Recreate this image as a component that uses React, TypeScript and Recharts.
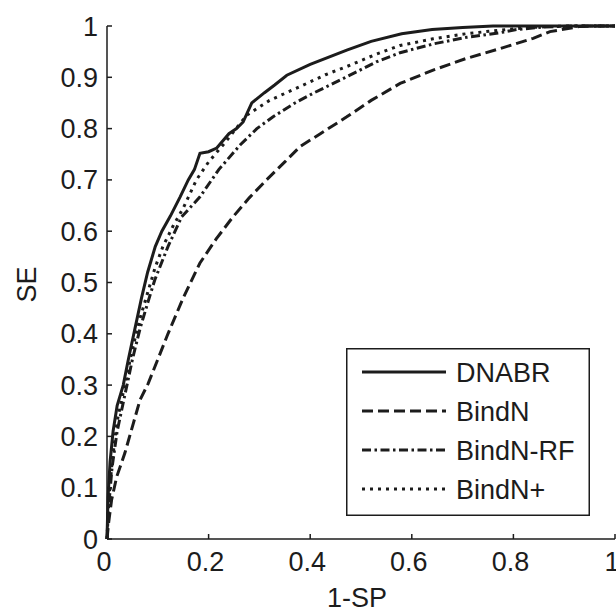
import { LineChart, Line, XAxis, YAxis, Legend, Label } from "recharts";

// ROC curves, values (x = 1-SP, y = SE)
const dnabrFpr = [0, 0.002, 0.006, 0.012, 0.02, 0.032, 0.042, 0.055, 0.068, 0.08, 0.095, 0.108, 0.125, 0.144, 0.16, 0.172, 0.183, 0.2, 0.216, 0.24, 0.255, 0.268, 0.285, 0.31, 0.33, 0.354, 0.4, 0.472, 0.52, 0.58, 0.64, 0.7, 0.76, 0.85, 1];
const dnabrTpr = [0, 0.08, 0.15, 0.21, 0.26, 0.3, 0.35, 0.41, 0.47, 0.52, 0.57, 0.6, 0.63, 0.667, 0.7, 0.72, 0.752, 0.755, 0.762, 0.79, 0.8, 0.813, 0.85, 0.87, 0.885, 0.904, 0.925, 0.953, 0.97, 0.985, 0.993, 0.997, 1, 1, 1];

const bindnFpr = [0, 0.003, 0.009, 0.019, 0.035, 0.052, 0.065, 0.081, 0.1, 0.12, 0.15, 0.183, 0.215, 0.248, 0.28, 0.314, 0.35, 0.38, 0.42, 0.472, 0.52, 0.577, 0.642, 0.708, 0.774, 0.839, 0.872, 0.93, 0.96, 1];
const bindnTpr = [0, 0.03, 0.076, 0.121, 0.167, 0.226, 0.271, 0.303, 0.35, 0.4, 0.47, 0.538, 0.585, 0.628, 0.665, 0.7, 0.735, 0.765, 0.79, 0.823, 0.855, 0.888, 0.914, 0.937, 0.956, 0.976, 0.989, 0.999, 1, 1];

const rfFpr = [0, 0.003, 0.01, 0.02, 0.035, 0.05, 0.065, 0.08, 0.094, 0.12, 0.147, 0.183, 0.22, 0.262, 0.295, 0.327, 0.37, 0.406, 0.472, 0.53, 0.577, 0.642, 0.708, 0.774, 0.806, 0.86, 0.92, 1];
const rfTpr = [0, 0.06, 0.14, 0.21, 0.28, 0.35, 0.41, 0.46, 0.505, 0.57, 0.628, 0.667, 0.72, 0.768, 0.8, 0.823, 0.85, 0.869, 0.901, 0.93, 0.948, 0.965, 0.978, 0.987, 0.993, 0.998, 1, 1];

const plusFpr = [0, 0.003, 0.01, 0.02, 0.035, 0.05, 0.065, 0.08, 0.095, 0.11, 0.13, 0.15, 0.176, 0.2, 0.23, 0.275, 0.32, 0.38, 0.43, 0.472, 0.53, 0.577, 0.642, 0.708, 0.774, 0.83, 0.9, 1];
const plusTpr = [0, 0.07, 0.15, 0.23, 0.3, 0.37, 0.43, 0.48, 0.53, 0.57, 0.61, 0.645, 0.7, 0.735, 0.77, 0.826, 0.855, 0.882, 0.905, 0.921, 0.945, 0.962, 0.975, 0.985, 0.992, 0.997, 1, 1];

const xTicks = [0, 0.2, 0.4, 0.6, 0.8, 1];
const yTicks = [0, 0.1, 0.2, 0.3, 0.4, 0.5, 0.6, 0.7, 0.8, 0.9, 1];

const INK = "#1c1c1c";
const FONT = '"Liberation Sans", Arial, sans-serif';

const toPoints = (fpr: number[], tpr: number[]) => fpr.map((x, i) => ({ fpr: x, tpr: tpr[i] }));

const series = [
  { name: "DNABR", data: toPoints(dnabrFpr, dnabrTpr), dash: undefined as string | undefined },
  { name: "BindN", data: toPoints(bindnFpr, bindnTpr), dash: "11 5" },
  { name: "BindN-RF", data: toPoints(rfFpr, rfTpr), dash: "9 3.5 2.5 3.5" },
  { name: "BindN+", data: toPoints(plusFpr, plusTpr), dash: "3 5" },
];

const fmtTick = (v: number) => (v === 0 || v === 1 ? String(v) : v.toFixed(1));
const tickStyle = { fontSize: 27, fill: INK, fontFamily: FONT };
const EmptyTick = () => <g />;

function LegendBox() {
  return (
    <svg width={244} height={168} style={{ display: "block" }}>
      <rect x={0.75} y={0.75} width={242.5} height={166.5} fill="#fff" stroke={INK} strokeWidth={1.5} />
      {series.map((s, i) => {
        const cy = 24 + i * 39;
        return (
          <g key={s.name}>
            <line x1={16} x2={100} y1={cy} y2={cy} stroke={INK} strokeWidth={3} strokeDasharray={s.dash} />
            <text x={110} y={cy + 10} fontSize={27} fill={INK} fontFamily={FONT}>{s.name}</text>
          </g>
        );
      })}
    </svg>
  );
}

export default function App() {
  return (
    <div style={{ position: "absolute", left: 0, top: 0, background: "#fff" }}>
      <LineChart width={616} height={610} margin={{ top: 26, right: 1, left: 0, bottom: 0 }}>
        <XAxis
          dataKey="fpr"
          type="number"
          domain={[0, 1]}
          ticks={xTicks}
          interval={0}
          height={71}
          tickSize={-5}
          tickMargin={18}
          tickFormatter={fmtTick}
          tick={{ ...tickStyle, dx: -3 }}
          axisLine={{ stroke: INK, strokeWidth: 1.5 }}
          tickLine={{ stroke: INK, strokeWidth: 1.5 }}
        >
          <Label
            content={({ viewBox }: any) => (
              <text x={viewBox.x + viewBox.width / 2 - 4} y={viewBox.y + viewBox.height - 3} textAnchor="middle" fontSize={27} fill={INK} fontFamily={FONT}>
                1-SP
              </text>
            )}
          />
        </XAxis>
        <XAxis
          xAxisId="top"
          orientation="top"
          type="number"
          domain={[0, 1]}
          ticks={xTicks}
          interval={0}
          height={0}
          tickSize={-5}
          tick={EmptyTick}
          axisLine={{ stroke: INK, strokeWidth: 1.5 }}
          tickLine={{ stroke: INK, strokeWidth: 1.5 }}
        />
        <YAxis
          type="number"
          domain={[0, 1]}
          ticks={yTicks}
          interval={0}
          width={107}
          tickSize={-5}
          tickMargin={14}
          tickFormatter={fmtTick}
          tick={tickStyle}
          axisLine={{ stroke: INK, strokeWidth: 1.5 }}
          tickLine={{ stroke: INK, strokeWidth: 1.5 }}
        >
          <Label
            content={({ viewBox }: any) => {
              const x = viewBox.x + 36;
              const y = viewBox.y + viewBox.height / 2 + 2;
              return (
                <text x={x} y={y} transform={`rotate(-90, ${x}, ${y})`} textAnchor="middle" fontSize={27} fill={INK} fontFamily={FONT}>
                  SE
                </text>
              );
            }}
          />
        </YAxis>
        <YAxis
          yAxisId="right"
          orientation="right"
          type="number"
          domain={[0, 1]}
          ticks={yTicks}
          interval={0}
          width={0}
          tickSize={-5}
          tick={EmptyTick}
          axisLine={{ stroke: INK, strokeWidth: 1.5 }}
          tickLine={{ stroke: INK, strokeWidth: 1.5 }}
        />
        {series.map((s) => (
          <Line
            key={s.name}
            name={s.name}
            data={s.data}
            dataKey="tpr"
            type="linear"
            stroke={INK}
            strokeWidth={3}
            strokeDasharray={s.dash}
            dot={false}
            activeDot={false}
            isAnimationActive={false}
          />
        ))}
        <Legend
          layout="vertical"
          align="center"
          verticalAlign="middle"
          content={() => <LegendBox />}
          wrapperStyle={{ left: 346, top: 348, width: 244, height: 168 }}
        />
      </LineChart>
    </div>
  );
}
